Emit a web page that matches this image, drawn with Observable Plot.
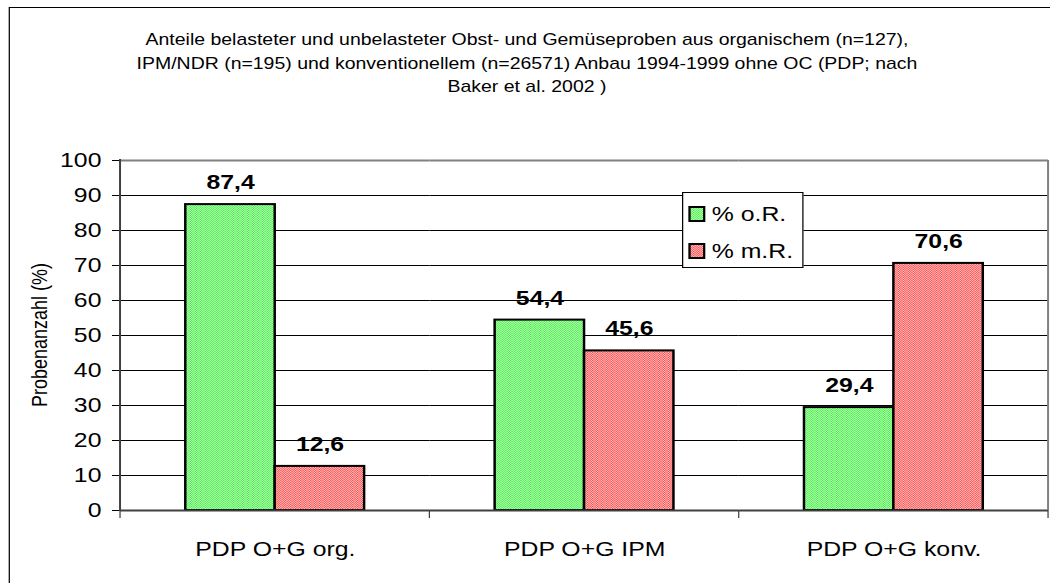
<!DOCTYPE html>
<html><head><meta charset="utf-8">
<script src="https://cdn.jsdelivr.net/npm/d3@7"></script>
<script src="https://cdn.jsdelivr.net/npm/@observablehq/plot@0.6"></script>
<style>
html,body{margin:0;padding:0;background:#fff;overflow:hidden;width:1050px;height:583px;}
#stage{position:absolute;left:0;top:0;width:847px;height:583px;transform:scaleX(1.24);transform-origin:0 0;font-family:"Liberation Sans",Arial,sans-serif;color:#000;}
#border{position:absolute;left:6.5px;top:7px;width:900px;height:700px;border:1px solid #000;box-sizing:border-box;}
#chart{position:absolute;left:0;top:0;}
#title{position:absolute;left:6.5px;width:837px;top:28px;text-align:center;font-size:15.7px;line-height:23.5px;}
#ylab{position:absolute;left:-67.7px;top:325px;width:200px;height:20px;line-height:20px;text-align:center;font-size:18px;transform:rotate(-90deg);}
#legend{position:absolute;left:550px;top:192px;width:98px;height:76px;border:1px solid #000;box-sizing:border-box;background:#fff;}
.li{position:absolute;left:4px;height:24px;display:flex;align-items:center;font-size:20px;white-space:nowrap;}
.li svg{margin-right:5px;}
</style>
</head><body>
<svg width="0" height="0" style="position:absolute">
<defs>
<pattern id="patGreen" width="2" height="2" patternUnits="userSpaceOnUse">
<rect width="2" height="2" fill="#c4ffc4"/><rect width="1" height="1" fill="#40f040"/><rect x="1" y="1" width="1" height="1" fill="#40f040"/>
</pattern>
<pattern id="patRed" width="2" height="2" patternUnits="userSpaceOnUse">
<rect width="2" height="2" fill="#ffc8c8"/><rect width="1" height="1" fill="#ff4848"/><rect x="1" y="1" width="1" height="1" fill="#ff4848"/>
</pattern>
</defs>
</svg>
<div id="stage">
<div id="border"></div>
<div id="chart"></div>
<div id="title"></div>
<div id="ylab"></div>
<div id="legend"></div>
</div>
<script>
const titleLines = [
  "Anteile belasteter und unbelasteter Obst- und Gemüseproben aus organischem (n=127),",
  "IPM/NDR (n=195) und konventionellem (n=26571) Anbau 1994-1999 ohne OC (PDP; nach",
  "Baker et al. 2002 )"
];
const yLabel = "Probenanzahl (%)";
const categories = ["PDP O+G org.", "PDP O+G IPM", "PDP O+G konv."];
const seriesNames = ["% o.R.", "% m.R."];
const ohneRueckstand = [87.4, 54.4, 29.4];
const mitRueckstand = [12.6, 45.6, 70.6];
const yTicks = [0, 10, 20, 30, 40, 50, 60, 70, 80, 90, 100];
const gridLines = [10, 20, 30, 40, 50, 60, 70, 80, 90];
const seriesFills = ["url(#patGreen)", "url(#patRed)"];

const rows = categories.flatMap((c, i) => [
  {cat: c, series: seriesNames[0], value: ohneRueckstand[i]},
  {cat: c, series: seriesNames[1], value: mitRueckstand[i]}
]);
const fmt = v => v.toFixed(1).replace(".", ",");

const chart = Plot.plot({
  width: 847, height: 583,
  marginLeft: 96.8, marginRight: 1.8, marginTop: 160, marginBottom: 73,
  style: {background: "none", fontFamily: "'Liberation Sans', Arial, sans-serif", fontSize: "20px", color: "#000", overflow: "visible"},
  fx: {domain: categories, padding: 0, round: false, axis: "bottom", tickSize: 0, tickPadding: 31, label: null},
  x: {domain: seriesNames, paddingInner: 0, paddingOuter: 0.73, round: false, axis: null},
  y: {domain: [0, 100], ticks: yTicks, tickSize: 6.5, tickPadding: 9, label: null},
  color: {domain: seriesNames, range: seriesFills},
  marks: [
    Plot.ruleY(gridLines, {stroke: "#000", strokeWidth: 1}),
    Plot.ruleY([100], {stroke: "#808080", strokeWidth: 2}),
    Plot.barY(rows, {fx: "cat", x: "series", y: "value", fill: "series", stroke: "#000", strokeWidth: 2}),
    Plot.ruleY([0], {stroke: "#404040", strokeWidth: 2}),
    Plot.text(rows, {fx: "cat", x: "series", y: "value", text: d => fmt(d.value), dy: -22, fontWeight: "bold", fontSize: 20, fill: "#000"})
  ]
});
document.getElementById("chart").appendChild(chart);

// frame lines and category separators from the plot's own scales
const fxS = chart.scale("fx"), yS = chart.scale("y");
const bw = fxS.bandwidth != null ? fxS.bandwidth : (fxS.range[1] - fxS.range[0]) / categories.length;
const starts = categories.map(c => fxS.apply(c));
const xEnd = starts[starts.length - 1] + bw;
const bounds = starts.concat([xEnd]);
const y0 = yS.apply(0), y100 = yS.apply(100);
const g = d3.select(chart).append("g");
g.selectAll("line.sep").data(bounds).join("line").attr("class", "sep")
  .attr("x1", d => d).attr("x2", d => d).attr("y1", y0).attr("y2", y0 + 8)
  .attr("stroke", "#404040").attr("stroke-width", 1);
g.append("line").attr("x1", xEnd).attr("x2", xEnd).attr("y1", y100).attr("y2", y0)
  .attr("stroke", "#808080").attr("stroke-width", 1.6);
g.append("line").attr("x1", starts[0]).attr("x2", starts[0]).attr("y1", y100 - 1).attr("y2", y0 + 1)
  .attr("stroke", "#404040").attr("stroke-width", 1.6);

document.getElementById("title").innerHTML = titleLines.map(t => t.replace(/&/g, "&amp;")).join("<br>");
document.getElementById("ylab").textContent = yLabel;

const legend = document.getElementById("legend");
seriesNames.forEach((s, i) => {
  const row = document.createElement("div");
  row.className = "li";
  row.style.top = (9 + i * 37) + "px";
  row.innerHTML = `<svg width="14" height="16"><rect x="1" y="1" width="12" height="14" fill="${seriesFills[i]}" stroke="#000" stroke-width="2"/></svg>`;
  const span = document.createElement("span");
  span.textContent = s;
  row.appendChild(span);
  legend.appendChild(row);
});
</script>
</body></html>
